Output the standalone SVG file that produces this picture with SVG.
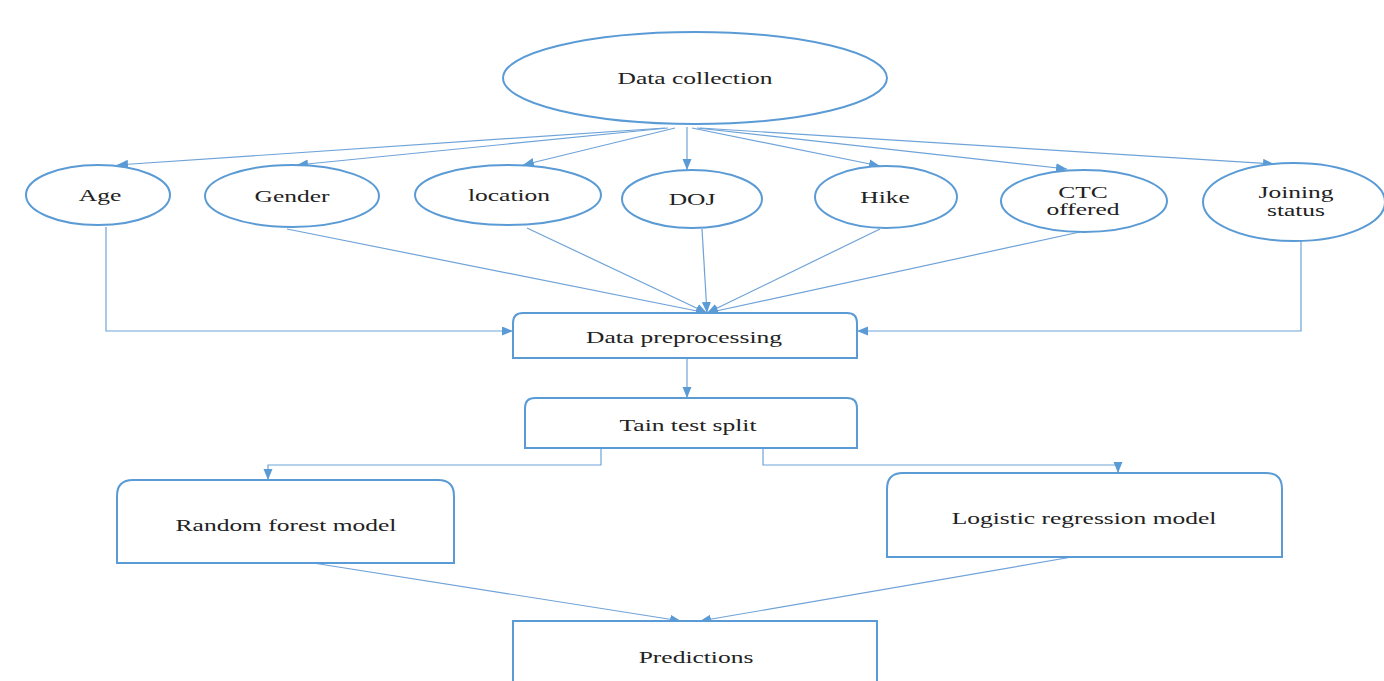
<svg xmlns="http://www.w3.org/2000/svg" width="1384" height="681" viewBox="0 0 1384 681">
<defs>
<marker id="ah" markerUnits="userSpaceOnUse" markerWidth="12" markerHeight="10" refX="11" refY="4.5" orient="auto">
<path d="M0,0 L11,4.5 L0,9 z" fill="#5b9bd5"/>
</marker>
<style>
.sh{fill:#fff;stroke:#5b9bd5;stroke-width:2}
.cn{fill:none;stroke:#6fa3d8;stroke-width:1.2;marker-end:url(#ah)}
.cl{fill:none;stroke:#6fa3d8;stroke-width:1.2}
text{font-family:"Liberation Serif","Times New Roman",serif;font-size:17px;fill:#222;text-anchor:middle}
</style>
</defs>
<rect width="1384" height="681" fill="#fff"/>
<g id="connectors">
<line class="cn" x1="665" y1="128" x2="117" y2="165"/>
<line class="cn" x1="668" y1="128" x2="297" y2="165"/>
<line class="cn" x1="675" y1="128" x2="523" y2="165"/>
<line class="cn" x1="687" y1="127" x2="687" y2="170"/>
<line class="cn" x1="692" y1="128" x2="880" y2="166"/>
<line class="cn" x1="697" y1="128" x2="1067" y2="169"/>
<line class="cn" x1="700" y1="128" x2="1274" y2="164"/>
<line class="cn" x1="287" y1="229" x2="707" y2="313"/>
<line class="cn" x1="527" y1="228" x2="707" y2="313"/>
<line class="cn" x1="702" y1="229" x2="707" y2="313"/>
<line class="cn" x1="880" y1="229" x2="707" y2="313"/>
<line class="cn" x1="1080" y1="232" x2="707" y2="313"/>
<polyline class="cn" points="106,227 106,331 513,331"/>
<polyline class="cn" points="1301,241 1301,331 857,331"/>
<line class="cn" x1="687" y1="358" x2="687" y2="398"/>
<polyline class="cn" points="601,448 601,465 268,465 268,480"/>
<polyline class="cn" points="763,448 763,465 1118,465 1118,473"/>
<line class="cn" x1="313" y1="563" x2="681" y2="621"/>
<line class="cn" x1="1072" y1="557" x2="700" y2="621"/>
</g>
<g id="data-collection">
<ellipse class="sh" cx="695" cy="78" rx="192" ry="46"/>
<text transform="translate(695,84) scale(1.5,1)">Data collection</text>
</g>
<g id="age">
<ellipse class="sh" cx="98" cy="195" rx="72" ry="30"/>
<text transform="translate(100,201) scale(1.5,1)">Age</text>
</g>
<g id="gender">
<ellipse class="sh" cx="292" cy="196" rx="87" ry="31"/>
<text transform="translate(292,202) scale(1.5,1)">Gender</text>
</g>
<g id="location">
<ellipse class="sh" cx="508" cy="195" rx="93" ry="30"/>
<text transform="translate(509,201) scale(1.5,1)">location</text>
</g>
<g id="doj">
<ellipse class="sh" cx="692" cy="199" rx="70" ry="29"/>
<text transform="translate(692,205) scale(1.5,1)">DOJ</text>
</g>
<g id="hike">
<ellipse class="sh" cx="886" cy="197" rx="71" ry="31"/>
<text transform="translate(885,203) scale(1.5,1)">Hike</text>
</g>
<g id="ctc-offered">
<ellipse class="sh" cx="1084" cy="201" rx="83" ry="31"/>
<text transform="translate(1083,198) scale(1.5,1)">CTC</text>
<text transform="translate(1083,215) scale(1.5,1)">offered</text>
</g>
<g id="joining-status">
<ellipse class="sh" cx="1294" cy="202" rx="91" ry="39"/>
<text transform="translate(1296,198) scale(1.5,1)">Joining</text>
<text transform="translate(1296,216) scale(1.5,1)">status</text>
</g>
<g id="data-preprocessing">
<path class="sh" d="M513,358 V323 Q513,313 523,313 H847 Q857,313 857,323 V358 Z"/>
<text transform="translate(684,343) scale(1.5,1)">Data preprocessing</text>
</g>
<g id="train-test-split">
<path class="sh" d="M525,448 V408 Q525,398 535,398 H847 Q857,398 857,408 V448 Z"/>
<text transform="translate(688,431) scale(1.5,1)">Tain test split</text>
</g>
<g id="random-forest">
<path class="sh" d="M117,563 V496 Q117,480 133,480 H438 Q454,480 454,496 V563 Z"/>
<text transform="translate(286,531) scale(1.5,1)">Random forest model</text>
</g>
<g id="logistic-regression">
<path class="sh" d="M887,557 V489 Q887,473 903,473 H1266 Q1282,473 1282,489 V557 Z"/>
<text transform="translate(1084,524) scale(1.5,1)">Logistic regression model</text>
</g>
<g id="predictions">
<rect class="sh" x="513" y="621" width="364" height="70"/>
<text transform="translate(696,663) scale(1.5,1)">Predictions</text>
</g>
</svg>
